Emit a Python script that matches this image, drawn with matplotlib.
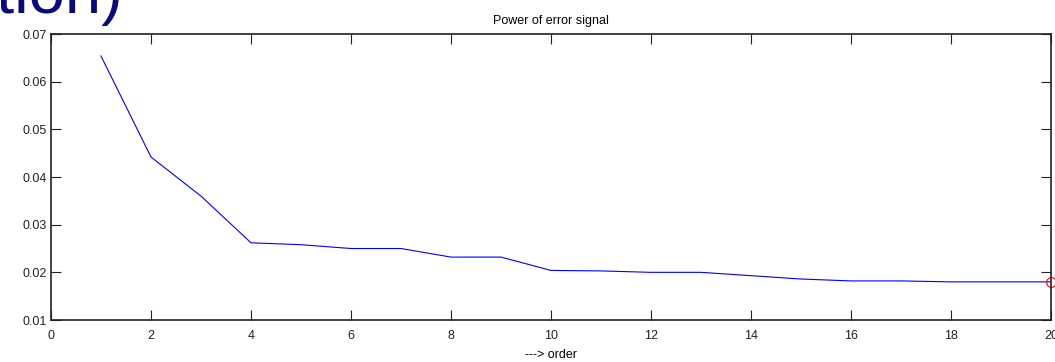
import numpy as np
import matplotlib.pyplot as plt

plt.rcParams['font.family'] = ['Liberation Sans', 'DejaVu Sans']

# データ ----------------------------------------------------
order = list(range(1, 21))
power = [0.0654, 0.0442, 0.0360, 0.0262, 0.0258, 0.0250, 0.0250, 0.0232, 0.0232, 0.0204,
         0.0203, 0.0200, 0.0200, 0.0193, 0.0186, 0.0182, 0.0182, 0.0180, 0.0180, 0.0180]
best_order = [20]
best_power = [0.0180]
xticks = list(range(0, 21, 2))
yticks = [0.01, 0.02, 0.03, 0.04, 0.05, 0.06, 0.07]
# ----------------------------------------------------------

fig = plt.figure(figsize=(10.55, 3.62), dpi=100)
ax = fig.add_axes([0.0483, 0.116, 0.948, 0.790])

ax.plot(order, power, color='#0000ff', linewidth=0.8)
ax.plot(best_order, best_power, 'o', markerfacecolor='none', markeredgecolor='red',
        markersize=7, markeredgewidth=0.8, clip_on=False)

ax.set_xlim(0, 20)
ax.set_ylim(0.01, 0.07)
ax.set_xticks(xticks)
ax.set_yticks(yticks)
ax.set_xticklabels([str(t) for t in xticks])
ax.set_yticklabels(['%.2f' % t for t in yticks])

ax.tick_params(direction='in', length=7, width=0.8, top=True, right=True,
               labelsize=9, colors='#222222')
ax.tick_params(axis='x', pad=7)
ax.tick_params(axis='y', pad=3)
for s in ax.spines.values():
    s.set_linewidth(1.2)
    s.set_color('#222222')

ax.set_title('Power of error signal', fontsize=9, pad=7)
ax.set_xlabel('---> order', fontsize=9, labelpad=5)

# スライドのタイトルの切れ端
fig.text(-0.004, 0.964, 'tion)', fontsize=47, color='#0a0a78', ha='left', va='baseline')

fig.savefig('out.png', dpi=100)
